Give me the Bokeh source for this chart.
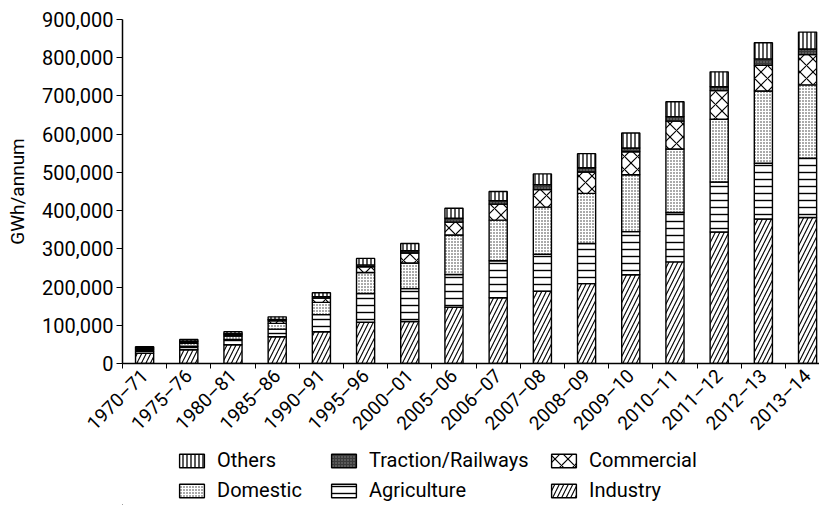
import math
import numpy as np
from bokeh.plotting import figure
from bokeh.layouts import column
from bokeh.models import (Range1d, FixedTicker, NumeralTickFormatter, Legend,
                          LegendItem, ColumnDataSource)
from bokeh.embed import file_html
from bokeh.resources import INLINE

years = ["1970–71", "1975–76", "1980–81", "1985–86", "1990–91", "1995–96",
         "2000–01", "2005–06", "2006–07", "2007–08", "2008–09", "2009–10",
         "2010–11", "2011–12", "2012–13", "2013–14"]

industry = [27000, 36000, 49000, 70000, 83000, 108000, 110000, 147000, 172000,
            189000, 209000, 232000, 266000, 344000, 378000, 382000]
agriculture = [5000, 9000, 14000, 20000, 45000, 75000, 86000, 86000, 97000,
               97000, 105000, 113000, 129000, 131000, 146000, 155000]
domestic = [4000, 8000, 9000, 15000, 32000, 55000, 67000, 103000, 106000,
            123000, 131000, 149000, 166000, 164000, 189000, 192000]
commercial = [3000, 4000, 4000, 7000, 11000, 15000, 26000, 34000, 42000,
              46000, 56000, 60000, 73000, 75000, 67000, 79000]
traction = [2000, 2000, 2000, 3000, 4000, 5000, 6000, 10000, 9000,
            13000, 11000, 10000, 12000, 10000, 17000, 15000]
others = [3000, 4000, 5000, 7000, 10000, 17000, 19000, 26000, 24000,
          28000, 37000, 39000, 39000, 39000, 42000, 44000]

y_ticks = [0, 100000, 200000, 300000, 400000, 500000, 600000, 700000, 800000, 900000]

FONT = "Roboto"

styles = {
    "Industry": dict(fill_color="white", hatch_pattern="/", hatch_scale=9, hatch_weight=1.1, hatch_color="black"),
    "Agriculture": dict(fill_color="white", hatch_pattern="-", hatch_scale=7, hatch_weight=1.4, hatch_color="black"),
    "Domestic": dict(fill_color="white", hatch_pattern=".", hatch_scale=3, hatch_weight=2.0, hatch_color="#2a2a2a"),
    "Commercial": dict(fill_color="white", hatch_pattern="x", hatch_scale=13, hatch_weight=1.2, hatch_color="black"),
    "Traction/Railways": dict(fill_color="#3a3a3a", hatch_pattern=".", hatch_scale=3, hatch_color="#8a8a8a", hatch_weight=1),
    "Others": dict(fill_color="white", hatch_pattern="|", hatch_scale=4, hatch_weight=1.3, hatch_color="black"),
}
series = [("Industry", industry), ("Agriculture", agriculture), ("Domestic", domestic),
          ("Commercial", commercial), ("Traction/Railways", traction), ("Others", others)]

x = list(range(len(years)))
data = {"x": x}
bottom = np.zeros(len(years))
for name, vals in series:
    data[name + "_b"] = bottom.copy()
    bottom = bottom + np.array(vals)
    data[name + "_t"] = bottom.copy()
src = ColumnDataSource(data)

p = figure(width=819, height=445, output_backend="svg", toolbar_location=None,
           x_range=Range1d(-0.5, 15.27), y_range=Range1d(0, 900000),
           min_border_left=122, min_border_right=0, min_border_top=19,
           min_border_bottom=80)
p.outline_line_color = None
p.xgrid.visible = False
p.ygrid.visible = False

for name, vals in series:
    p.vbar(x="x", width=0.41, bottom=name + "_b", top=name + "_t", source=src,
           line_color="black", line_width=1.4, **styles[name])

xa = p.xaxis[0]
xa.ticker = FixedTicker(ticks=x, minor_ticks=[i - 0.5 for i in range(len(years) + 1)])
xa.major_label_overrides = {i: years[i] for i in x}
xa.major_tick_out = 0
xa.major_tick_in = 0
xa.minor_tick_out = 5
xa.minor_tick_in = 0
xa.minor_tick_line_color = "black"
xa.axis_line_color = "black"
xa.axis_line_width = 1.5
xa.major_label_orientation = math.pi / 4
xa.major_label_text_font = FONT
xa.major_label_text_font_size = "19px"
xa.major_label_text_color = "black"
xa.major_label_standoff = 4

ya = p.yaxis[0]
ya.ticker = FixedTicker(ticks=y_ticks)
ya.formatter = NumeralTickFormatter(format="0,0")
ya.minor_tick_line_color = None
ya.major_tick_out = 6
ya.major_tick_in = 0
ya.major_tick_line_color = "black"
ya.axis_line_color = "black"
ya.axis_line_width = 1.5
ya.major_label_text_font = FONT
ya.major_label_text_font_size = "20px"
ya.major_label_text_color = "black"
ya.major_label_standoff = 3
ya.axis_label = "GWh/annum"
ya.axis_label_text_font = FONT
ya.axis_label_text_font_size = "19px"
ya.axis_label_text_font_style = "normal"
ya.axis_label_text_color = "black"
ya.axis_label_standoff = 10

# legend strip below the chart
lg = figure(width=819, height=60, output_backend="svg", toolbar_location=None,
            x_range=Range1d(0, 819), y_range=Range1d(0, 60),
            x_axis_location=None, y_axis_location=None,
            min_border_left=0, min_border_right=0, min_border_top=0, min_border_bottom=0)
lg.outline_line_color = None
lg.xgrid.visible = False
lg.ygrid.visible = False
dummy = {}
for name, _ in series:
    dummy[name] = lg.vbar(x=[-100000], width=1, bottom=[-100000], top=[-99999],
                          line_color="black", line_width=1.4, **styles[name])

cols = [
    (["Others", "Domestic"], 54),
    (["Traction/Railways", "Agriculture"], 206),
    (["Commercial", "Industry"], 426),
]
for names, xoff in cols:
    leg = Legend(items=[LegendItem(label=n, renderers=[dummy[n]]) for n in names],
                 location=(xoff, 3), orientation="vertical",
                 glyph_width=31, glyph_height=17, label_standoff=10, spacing=6,
                 padding=0, margin=0, border_line_alpha=0, background_fill_alpha=0,
                 label_text_font=FONT, label_text_font_size="20px",
                 label_text_color="black", label_height=20)
    lg.add_layout(leg, "center")

layout = column(p, lg, spacing=0)
open("out.html", "w").write(file_html(layout, INLINE))
